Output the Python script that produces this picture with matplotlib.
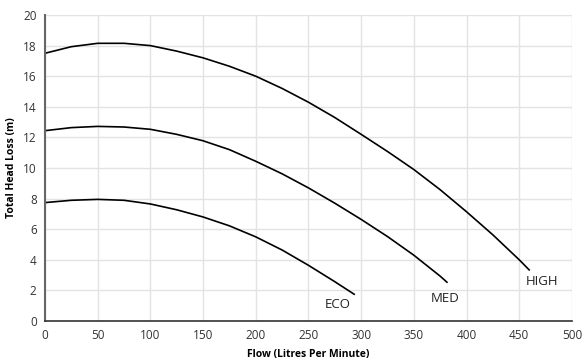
import matplotlib
matplotlib.use("Agg")
import matplotlib.pyplot as plt

plt.rcParams['font.family'] = ['Open Sans', 'DejaVu Sans']

high_flow = [0, 25, 50, 75, 100, 125, 150, 175, 200, 225, 250, 275, 300, 325, 350, 375, 400, 425, 450, 460]
high_head = [17.5, 17.93, 18.15, 18.15, 18.0, 17.64, 17.2, 16.65, 16.0, 15.2, 14.3, 13.3, 12.2, 11.08, 9.9, 8.58, 7.14, 5.63, 4.0, 3.3]
med_flow = [0, 25, 50, 75, 100, 125, 150, 175, 200, 225, 250, 275, 300, 325, 350, 375, 382]
med_head = [12.44, 12.64, 12.72, 12.68, 12.53, 12.2, 11.78, 11.2, 10.44, 9.62, 8.7, 7.7, 6.64, 5.52, 4.3, 2.93, 2.5]
eco_flow = [0, 25, 50, 75, 100, 125, 150, 175, 200, 225, 250, 275, 294]
eco_head = [7.74, 7.89, 7.95, 7.89, 7.65, 7.27, 6.8, 6.22, 5.5, 4.64, 3.64, 2.57, 1.72]

labels = ["HIGH", "MED", "ECO"]
label_pos = [(472, 2.55), (380, 1.44), (278, 1.05)]

x_ticks = list(range(0, 501, 50))
y_ticks = list(range(0, 21, 2))

fig = plt.figure(figsize=(5.86, 3.60), dpi=100)
ax = fig.add_axes([0.0768, 0.1083, 0.8992, 0.85])

for fx, hy in [(high_flow, high_head), (med_flow, med_head), (eco_flow, eco_head)]:
    ax.plot(fx, hy, color='black', lw=1.2, solid_capstyle='butt', solid_joinstyle='round')

for lab, (lx, ly) in zip(labels, label_pos):
    ax.text(lx, ly, lab, ha='center', va='center', fontsize=9.5, color='#222222')

ax.set_xlim(0, 500)
ax.set_ylim(0, 20)
ax.set_xticks(x_ticks)
ax.set_yticks(y_ticks)
ax.grid(True, color='#e3e3e3', lw=1)
ax.set_axisbelow(True)
for s in ['top', 'right']:
    ax.spines[s].set_visible(False)
ax.spines['left'].set_color('#666666')
ax.spines['left'].set_linewidth(1.5)
ax.spines['bottom'].set_color('#333333')
ax.spines['bottom'].set_linewidth(1.2)
ax.tick_params(length=0, labelsize=8.5, colors='#333333', pad=6)
ax.set_xlabel('Flow (Litres Per Minute)', fontsize=7.5, fontweight='bold', labelpad=5)
ax.set_ylabel('Total Head Loss (m)', fontsize=7.5, fontweight='bold', labelpad=4)

fig.savefig('out.png', dpi=100)
